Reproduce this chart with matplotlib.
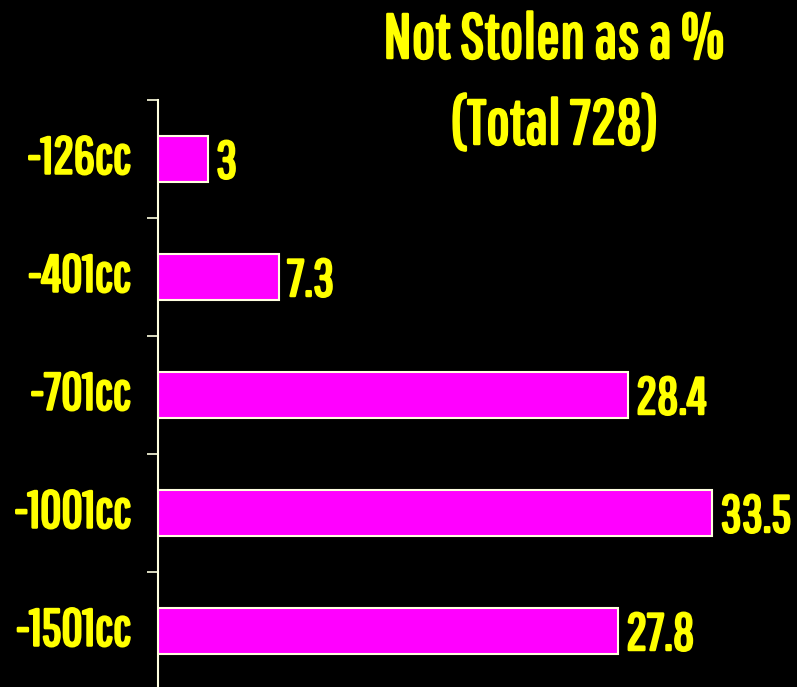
import matplotlib
matplotlib.use("Agg")
import matplotlib.pyplot as plt
from matplotlib import font_manager as fm
from matplotlib.textpath import TextPath
import matplotlib.patheffects as pe
import numpy as np

categories = ["-126cc", "-401cc", "-701cc", "-1001cc", "-1501cc"]
values = [3, 7.3, 28.4, 33.5, 27.8]
title_line1 = "Not Stolen as a %"
title_line2 = "(Total 728)"

names = {f.name for f in fm.fontManager.ttflist}
fam = next((f for f in ["Pathway Gothic One", "Oswald", "Liberation Sans"] if f in names), "DejaVu Sans")
plt.rcParams["font.family"] = [fam, "DejaVu Sans"]
fp = fm.FontProperties(family=[fam, "DejaVu Sans"])


def size_for_height(sample, px):
    h = TextPath((0, 0), sample, size=100, prop=fp).get_extents().height
    return px / (h / 100 * 100 / 72)


LS = size_for_height("1001", 38)
TS = size_for_height("NT", 44)
VS = size_for_height("335", 38)

yellow = "#FFFF00"
stroke = [pe.withStroke(linewidth=1.8, foreground=yellow)]

W, H = 797, 687
fig = plt.figure(figsize=(W / 100, H / 100), dpi=100, facecolor="black")
left, right = 158, 797
top, bottom = 100, 690
ax = fig.add_axes([left / W, (H - bottom) / H, (right - left) / W, (bottom - top) / H])
ax.set_facecolor("black")

ypos = np.arange(len(categories))
ax.barh(ypos, values, height=0.39, color="#FF00FF", edgecolor="#FFFFE0", linewidth=1.5)
ax.set_ylim(len(categories) - 0.5, -0.5)
ax.set_xlim(0, (right - left) / 16.54)

for y, v in zip(ypos, values):
    ax.annotate(f"{v:g}", (v, y), xytext=(6.0, -38 / 2 * 0.72), textcoords="offset points",
                va="baseline", ha="left", color=yellow, fontsize=VS, path_effects=stroke)

ax.set_yticks(ypos)
ax.set_yticklabels(categories, color=yellow, fontsize=LS, va="center")
for t in ax.get_yticklabels():
    t.set_path_effects(stroke)
ax.tick_params(axis="y", which="major", length=0, pad=20)
ax.set_yticks(np.arange(-0.5, len(categories) + 0.5, 1), minor=True)
ax.tick_params(axis="y", which="minor", length=8, width=1.2, color="#FFFFE0", direction="out")
ax.set_xticks([])
for s in ["top", "right", "bottom"]:
    ax.spines[s].set_visible(False)
ax.spines["left"].set_color("#FFFFE0")
ax.spines["left"].set_linewidth(1.5)

fig.text(554 / W, 1 - 58 / H, title_line1, ha="center", va="baseline", color=yellow,
         fontsize=TS, path_effects=stroke)
fig.text(555 / W, 1 - 144 / H, title_line2, ha="center", va="baseline", color=yellow,
         fontsize=TS, path_effects=stroke)

fig.savefig("out.png", dpi=100, facecolor="black")
